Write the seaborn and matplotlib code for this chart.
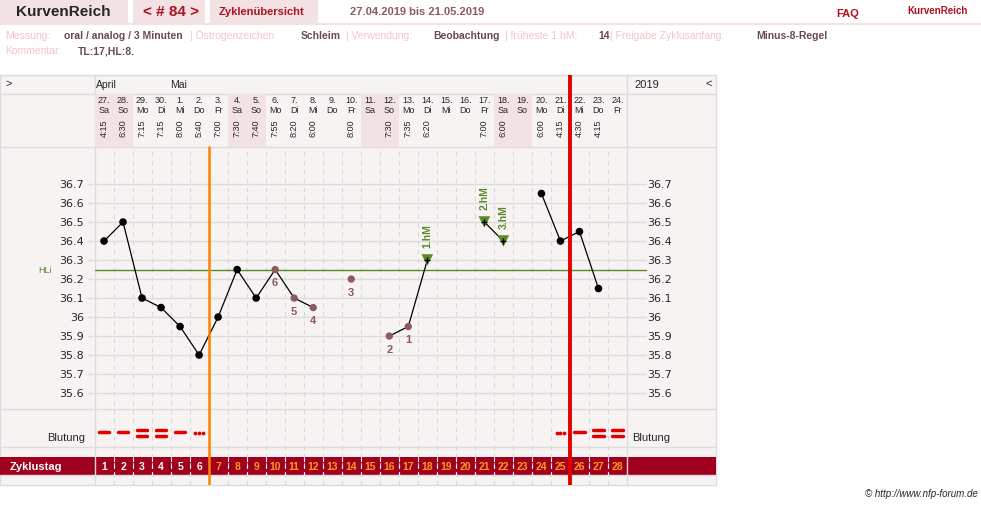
import numpy as np
import pandas as pd
import matplotlib
matplotlib.use('Agg')
import matplotlib.pyplot as plt
import seaborn as sns
from matplotlib.patches import Rectangle

sns.set_theme(style='white')
plt.rcParams['font.family'] = ['Liberation Sans', 'DejaVu Sans']

# ---- data ----
days = list(range(1, 29))
dates = ['27.', '28.', '29.', '30.', '1.', '2.', '3.', '4.', '5.', '6.', '7.', '8.', '9.', '10.',
         '11.', '12.', '13.', '14.', '15.', '16.', '17.', '18.', '19.', '20.', '21.', '22.', '23.', '24.']
weekdays = ['Sa', 'So', 'Mo', 'Di', 'Mi', 'Do', 'Fr', 'Sa', 'So', 'Mo', 'Di', 'Mi', 'Do', 'Fr',
            'Sa', 'So', 'Mo', 'Di', 'Mi', 'Do', 'Fr', 'Sa', 'So', 'Mo', 'Di', 'Mi', 'Do', 'Fr']
times = ['4:15', '6:30', '7:15', '7:15', '8:00', '5:40', '7:00', '7:30', '7:40', '7:55', '8:20', '6:00', '', '8:00',
         '', '7:30', '7:35', '6:20', '', '', '7:00', '6:00', '', '6:00', '4:15', '4:30', '4:15', '']
temps = [36.4, 36.5, 36.1, 36.05, 35.95, 35.8, 36.0, 36.25, 36.1, 36.25, 36.1, 36.05, np.nan, 36.2,
         np.nan, 35.9, 35.95, 36.3, np.nan, np.nan, 36.5, 36.4, np.nan, 36.65, 36.4, 36.45, 36.15, np.nan]
segment = [1, 1, 1, 1, 1, 1, 1, 1, 1, 1, 1, 1, 0, 2, 0, 3, 3, 3, 0, 0, 4, 4, 0, 5, 5, 5, 5, 0]
low_labels = {10: '6', 11: '5', 12: '4', 14: '3', 16: '2', 17: '1'}
high_labels = {18: '1.hM', 21: '2.hM', 22: '3.hM'}
bleeding = ['s', 's', 'd', 'd', 's', 'p', '', '', '', '', '', '', '', '', '', '', '', '', '', '', '', '', '', '',
            'p', 's', 'd', 'd']
hl_value = 36.25
temp_ticks = [36.7, 36.6, 36.5, 36.4, 36.3, 36.2, 36.1, 36.0, 35.9, 35.8, 35.7, 35.6]
weekend_days = [1, 2, 8, 9, 15, 16, 22, 23]
first_high_boundary = 6.5
cycle_end_boundary = 25.5

df = pd.DataFrame({'day': days, 'temp': temps, 'seg': segment})

W, H = 981, 506
fig = plt.figure(figsize=(W / 100, H / 100), dpi=100)
fig.patch.set_facecolor('white')


def rect(x0, y0, x1, y1):
    return fig.add_axes([x0 / W, 1 - y1 / H, (x1 - x0) / W, (y1 - y0) / H])


pink = '#f8f3f3'
grid = '#dcdcdc'
dark_red = '#a0001e'
brown = '#8c5a5f'
green = '#5a8a2a'

# ---- background / page frame ----
bg = rect(0, 0, W, H)
bg.set_xlim(0, W)
bg.set_ylim(H, 0)
bg.axis('off')
for x0, x1 in [(0, 128), (133, 205), (210, 318)]:
    bg.add_patch(Rectangle((x0, 0), x1 - x0, 24, color='#f2e2e4', lw=0))
bg.plot([0, W], [24.5, 24.5], color='#f2e2e4', lw=1.5)
bg.text(16, 12, 'KurvenReich', fontsize=11, fontweight='bold', va='center')
bg.text(143, 12, '< # 84 >', fontsize=11, fontweight='bold', color='#b01020', va='center')
bg.text(219, 12, 'Zyklenübersicht', fontsize=8, fontweight='bold', color='#b01020', va='center')
bg.text(350, 12, '27.04.2019 bis 21.05.2019', fontsize=8, fontweight='bold', color='#8c5a5f', va='center')
bg.text(836, 14, 'FAQ', fontsize=8, fontweight='bold', color='#b01020', va='center')
bg.text(907, 11, 'KurvenReich', fontsize=7, fontweight='bold', color='#b01020', va='center')
row = [('Messung:', 'lab', 5), ('oral / analog / 3 Minuten', 'val', 64), ('| Östrogenzeichen:', 'lab', 190),
       ('Schleim', 'val', 301), ('| Verwendung:', 'lab', 346), ('Beobachtung', 'val', 433),
       ('| früheste 1.hM:', 'lab', 505), ('14', 'val', 598), ('| Freigabe Zyklusanfang:', 'lab', 610),
       ('Minus-8-Regel', 'val', 756)]
for txt, kind, x in row:
    bg.text(x, 36, txt, fontsize=7.5, va='center',
            color='#f2c4c8' if kind == 'lab' else '#6a4a4e', fontweight='normal' if kind == 'lab' else 'bold')
bg.text(5, 51, 'Kommentar:', fontsize=7.5, color='#f2c4c8', va='center')
bg.text(78, 51, 'TL:17,HL:8.', fontsize=7.5, color='#6a4a4e', fontweight='bold', va='center')

bg.add_patch(Rectangle((0, 76), 716, 410, facecolor=pink, edgecolor=grid, lw=1))
for y in [95, 148, 410, 448, 476]:
    bg.plot([0, 716], [y, y], color=grid, lw=1)
for x in [94.5, 627]:
    bg.plot([x, x], [76, 486], color=grid, lw=1)
bg.add_patch(Rectangle((0, 458), 716, 18, color=dark_red, lw=0))
bg.text(5, 84, '>', fontsize=8, va='center')
bg.text(706, 84, '<', fontsize=8, va='center')
bg.text(634, 85, '2019', fontsize=8, va='center')
bg.text(10, 467, 'Zyklustag', fontsize=8, fontweight='bold', color='white', va='center')
bg.text(85, 438, 'Blutung', fontsize=8, ha='right', va='center')
bg.text(632, 438, 'Blutung', fontsize=8, va='center')
bg.text(978, 494, '© http://www.nfp-forum.de', fontsize=7, style='italic', ha='right', va='center')

# ---- date header ----
hd = rect(94.5, 95, 627, 148)
hd.set_xlim(0.5, 28.5)
hd.set_ylim(1, 0)
hd.axis('off')
for d in weekend_days:
    hd.axvspan(d - 0.5, d + 0.5, color='#f2e2e4', lw=0)
for d, dt, wd, tm in zip(days, dates, weekdays, times):
    hd.text(d, 0.1, dt, fontsize=6.5, ha='center', va='center', fontstretch='condensed')
    hd.text(d, 0.3, wd, fontsize=6.5, ha='center', va='center')
    if tm:
        hd.text(d, 0.62, tm, fontsize=6.5, ha='center', va='center', rotation=90)
mh = rect(94.5, 76, 627, 95)
mh.set_xlim(0.5, 28.5)
mh.set_ylim(1, 0)
mh.axis('off')
mh.text(0.6, 0.5, 'April', fontsize=7.5, va='center')
mh.text(4.5, 0.5, 'Mai', fontsize=7.5, va='center')

# ---- column dividers and markers ----
ov = rect(94.5, 148, 627, 486)
ov.set_xlim(0.5, 28.5)
ov.set_ylim(0, 1)
ov.axis('off')
for d in days[:-1]:
    ov.axvline(d + 0.5, color='#d8d8d8', lw=0.8, ls=(0, (4, 4)))

# ---- temperature plot ----
ax = rect(94.5, 148, 627, 410)
ax.set_facecolor('none')
ax.set_xlim(0.5, 28.5)
ax.set_ylim(35.516, 36.895)
ax.axis('off')
for t in temp_ticks:
    ax.axhline(t, xmin=-0.013, xmax=1.035, color=grid, lw=1, clip_on=False, zorder=0)
    lab = f'{t:g}'
    ax.text(-0.02, t, lab, transform=ax.get_yaxis_transform(), fontsize=8, ha='right', va='center',
            fontfamily='DejaVu Sans')
    ax.text(1.038, t, lab, transform=ax.get_yaxis_transform(), fontsize=8, ha='left', va='center',
            fontfamily='DejaVu Sans')
ax.axhline(hl_value, xmin=0, xmax=1.035, color=green, lw=1, clip_on=False, zorder=1)
ax.text(-0.105, hl_value, 'HLi', transform=ax.get_yaxis_transform(), fontsize=6.5, color=green,
        va='center')

sns.lineplot(data=df[df.seg > 0], x='day', y='temp', units='seg', estimator=None, color='black',
             lw=0.9, ax=ax, legend=False, zorder=3)
normal = df[~df.day.isin(list(low_labels) + list(high_labels))]
sns.scatterplot(data=normal, x='day', y='temp', color='black', s=30, edgecolor='none', ax=ax, zorder=4)
low = df[df.day.isin(low_labels)]
sns.scatterplot(data=low, x='day', y='temp', color=brown, s=28, edgecolor='none', ax=ax, zorder=4)
for d, lab in low_labels.items():
    ax.text(d, temps[d - 1] - 0.04, lab, color=brown, fontsize=8, fontweight='bold', ha='center', va='top')
high = df[df.day.isin(high_labels)]
sns.scatterplot(data=high, x='day', y='temp', color=green, marker='v', s=70, edgecolor='none', ax=ax, zorder=4)
sns.scatterplot(data=high, x='day', y='temp', color='black', marker='+', s=15, linewidth=1, ax=ax, zorder=5)
for d, lab in high_labels.items():
    ax.text(d, temps[d - 1] + 0.07, lab, color=green, fontsize=7.5, fontweight='bold', ha='center',
            va='bottom', rotation=90)
ax.set_xlabel('')
ax.set_ylabel('')

# ---- bleeding ----
bl = rect(94.5, 410, 627, 448)
bl.set_xlim(0.5, 28.5)
bl.set_ylim(1, 0)
bl.axis('off')
for d, b in zip(days, bleeding):
    if b == 's':
        bl.plot([d - 0.27, d + 0.27], [0.6, 0.6], color='#e00000', lw=2.5, solid_capstyle='round')
    elif b == 'd':
        for yy in (0.55, 0.72):
            bl.plot([d - 0.27, d + 0.27], [yy, yy], color='#e00000', lw=2.5, solid_capstyle='round')
    elif b == 'p':
        bl.scatter([d - 0.2, d, d + 0.2], [0.62] * 3, color='#e00000', s=3)

# ---- cycle days ----
cd = rect(94.5, 458, 627, 476)
cd.set_xlim(0.5, 28.5)
cd.set_ylim(0, 1)
cd.axis('off')
for d in days:
    cd.text(d, 0.5, str(d), fontsize=7.5, fontweight='bold', ha='center', va='center',
            color='white' if d < first_high_boundary else '#ff9a1a')
    if d < 28:
        cd.axvline(d + 0.5, color='white', lw=0.8, ls=(0, (3, 3)))

ov2 = rect(94.5, 76, 627, 486)
ov2.set_xlim(0.5, 28.5)
ov2.set_ylim(0, 1)
ov2.axis('off')
ov2.axvline(first_high_boundary, ymin=0, ymax=338 / 410, color='#ff8000', lw=1.8, zorder=10)
ov2.axvline(cycle_end_boundary, color='#e00000', lw=2.8, zorder=10)

fig.savefig('out.png', dpi=100)
